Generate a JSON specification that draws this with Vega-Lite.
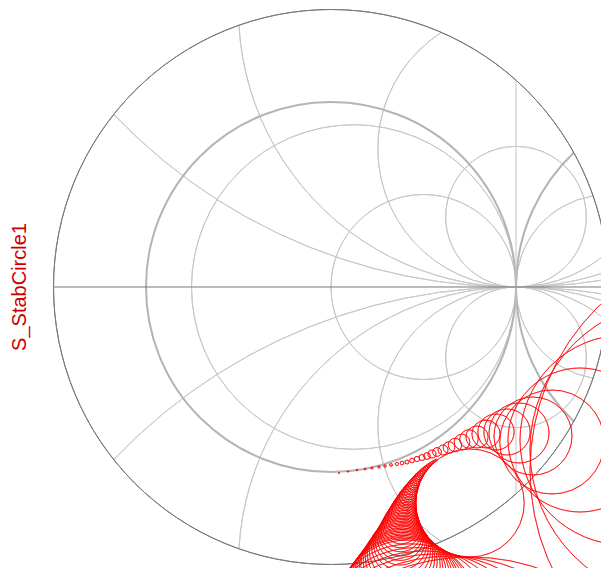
{
  "$schema": "https://vega.github.io/schema/vega-lite/v6.json",
  "width": 601,
  "height": 568,
  "padding": 0,
  "autosize": {"type": "none"},
  "background": "white",
  "config": {"view": {"stroke": null}},
  "datasets": {
    "grid": [
      {"kind": "outer", "cx": 0, "cy": 0, "rad": 1.5, "t0": 0, "t1": 360},
      {"kind": "thick", "cx": 0, "cy": 0, "rad": 1, "t0": 0, "t1": 360},
      {"kind": "thick", "cx": 2, "cy": 0, "rad": 1, "t0": 223.5, "t1": 316.5},
      {"kind": "thin", "cx": 0.123, "cy": 0, "rad": 0.877, "t0": 0, "t1": 360},
      {"kind": "thin", "cx": 0.5, "cy": 0, "rad": 0.5, "t0": 0, "t1": 360},
      {"kind": "thin", "cx": 1.5, "cy": 0, "rad": 0.5, "t0": 189.6, "t1": 350.4},
      {"kind": "thin", "cx": 1, "cy": 3, "rad": 3, "t0": 170.4, "t1": 226.45},
      {"kind": "thin", "cx": 1, "cy": -3, "rad": 3, "t0": -46.45, "t1": 9.6},
      {"kind": "thin", "cx": 1, "cy": 1.5, "rad": 1.5, "t0": 160.63, "t1": 266.75},
      {"kind": "thin", "cx": 1, "cy": -1.5, "rad": 1.5, "t0": -86.75, "t1": 19.37},
      {"kind": "thin", "cx": 1, "cy": 0.747, "rad": 0.747, "t0": 139.1, "t1": 327.35},
      {"kind": "thin", "cx": 1, "cy": -0.747, "rad": 0.747, "t0": -147.35, "t1": 40.9},
      {"kind": "thin", "cx": 1, "cy": 0.38, "rad": 0.38, "t0": 0, "t1": 360},
      {"kind": "thin", "cx": 1, "cy": -0.38, "rad": 0.38, "t0": 0, "t1": 360}
    ],
    "lines": [
      {"kind": "axis", "x1": -1.5, "x2": 1.5, "y1": 0, "y2": 0},
      {"kind": "vert", "x1": 1, "x2": 1, "y1": -1.118, "y2": 1.118}
    ],
    "stab": [
      {"cx": 0.7514, "cy": -1.1676, "rad": 0.2919},
      {"cx": 0.5690, "cy": -0.9342, "rad": 0.0043},
      {"cx": 0.5603, "cy": -0.9398, "rad": 0.0054},
      {"cx": 0.5517, "cy": -0.9458, "rad": 0.0065},
      {"cx": 0.5433, "cy": -0.9522, "rad": 0.0076},
      {"cx": 0.5352, "cy": -0.9588, "rad": 0.0086},
      {"cx": 0.5272, "cy": -0.9657, "rad": 0.0097},
      {"cx": 0.5195, "cy": -0.9730, "rad": 0.0108},
      {"cx": 0.5117, "cy": -0.9804, "rad": 0.0122},
      {"cx": 0.5043, "cy": -0.9881, "rad": 0.0135},
      {"cx": 0.4970, "cy": -0.9961, "rad": 0.0149},
      {"cx": 0.4901, "cy": -1.0043, "rad": 0.0162},
      {"cx": 0.4831, "cy": -1.0127, "rad": 0.0178},
      {"cx": 0.4764, "cy": -1.0214, "rad": 0.0195},
      {"cx": 0.4698, "cy": -1.0302, "rad": 0.0214},
      {"cx": 0.4635, "cy": -1.0394, "rad": 0.0232},
      {"cx": 0.4574, "cy": -1.0488, "rad": 0.0251},
      {"cx": 0.4517, "cy": -1.0585, "rad": 0.0270},
      {"cx": 0.4457, "cy": -1.0683, "rad": 0.0295},
      {"cx": 0.4401, "cy": -1.0783, "rad": 0.0319},
      {"cx": 0.4345, "cy": -1.0886, "rad": 0.0346},
      {"cx": 0.4294, "cy": -1.0991, "rad": 0.0373},
      {"cx": 0.4242, "cy": -1.1099, "rad": 0.0403},
      {"cx": 0.4195, "cy": -1.1209, "rad": 0.0432},
      {"cx": 0.4148, "cy": -1.1322, "rad": 0.0465},
      {"cx": 0.4105, "cy": -1.1437, "rad": 0.0497},
      {"cx": 0.4064, "cy": -1.1555, "rad": 0.0532},
      {"cx": 0.4027, "cy": -1.1676, "rad": 0.0568},
      {"cx": 0.3989, "cy": -1.1799, "rad": 0.0608},
      {"cx": 0.3955, "cy": -1.1925, "rad": 0.0649},
      {"cx": 0.3923, "cy": -1.2053, "rad": 0.0692},
      {"cx": 0.3895, "cy": -1.2184, "rad": 0.0735},
      {"cx": 0.3867, "cy": -1.2318, "rad": 0.0784},
      {"cx": 0.3844, "cy": -1.2456, "rad": 0.0832},
      {"cx": 0.3821, "cy": -1.2596, "rad": 0.0886},
      {"cx": 0.3803, "cy": -1.2740, "rad": 0.0941},
      {"cx": 0.3786, "cy": -1.2886, "rad": 0.1000},
      {"cx": 0.3775, "cy": -1.3036, "rad": 0.1059},
      {"cx": 0.3765, "cy": -1.3190, "rad": 0.1124},
      {"cx": 0.3761, "cy": -1.3346, "rad": 0.1189},
      {"cx": 0.3748, "cy": -1.3512, "rad": 0.1270},
      {"cx": 0.3743, "cy": -1.3681, "rad": 0.1351},
      {"cx": 0.3736, "cy": -1.3857, "rad": 0.1443},
      {"cx": 0.3732, "cy": -1.4039, "rad": 0.1541},
      {"cx": 0.3727, "cy": -1.4230, "rad": 0.1649},
      {"cx": 0.3731, "cy": -1.4424, "rad": 0.1757},
      {"cx": 0.3735, "cy": -1.4628, "rad": 0.1876},
      {"cx": 0.3745, "cy": -1.4837, "rad": 0.2000},
      {"cx": 0.3758, "cy": -1.5057, "rad": 0.2135},
      {"cx": 0.3781, "cy": -1.5281, "rad": 0.2270},
      {"cx": 0.3796, "cy": -1.5525, "rad": 0.2432},
      {"cx": 0.3824, "cy": -1.5773, "rad": 0.2595},
      {"cx": 0.3848, "cy": -1.6044, "rad": 0.2784},
      {"cx": 0.3886, "cy": -1.6318, "rad": 0.2973},
      {"cx": 0.3923, "cy": -1.6617, "rad": 0.3189},
      {"cx": 0.3977, "cy": -1.6918, "rad": 0.3405},
      {"cx": 0.4034, "cy": -1.7245, "rad": 0.3649},
      {"cx": 0.4108, "cy": -1.7574, "rad": 0.3892},
      {"cx": 0.4316, "cy": -1.8534, "rad": 0.4649},
      {"cx": 0.4630, "cy": -1.9599, "rad": 0.5514},
      {"cx": 0.5051, "cy": -2.0865, "rad": 0.6595},
      {"cx": 0.5636, "cy": -2.2322, "rad": 0.7892},
      {"cx": 0.6435, "cy": -2.4007, "rad": 0.9459},
      {"cx": 0.7514, "cy": -2.5946, "rad": 1.1351},
      {"cx": 0.0432, "cy": -1.0054, "rad": 0.0032},
      {"cx": 0.0919, "cy": -0.9973, "rad": 0.0038},
      {"cx": 0.1405, "cy": -0.9892, "rad": 0.0043},
      {"cx": 0.1838, "cy": -0.9838, "rad": 0.0049},
      {"cx": 0.2216, "cy": -0.9784, "rad": 0.0054},
      {"cx": 0.2595, "cy": -0.9730, "rad": 0.0059},
      {"cx": 0.2919, "cy": -0.9676, "rad": 0.0068},
      {"cx": 0.3243, "cy": -0.9622, "rad": 0.0076},
      {"cx": 0.3568, "cy": -0.9568, "rad": 0.0086},
      {"cx": 0.3838, "cy": -0.9514, "rad": 0.0097},
      {"cx": 0.4108, "cy": -0.9459, "rad": 0.0108},
      {"cx": 0.4378, "cy": -0.9378, "rad": 0.0124},
      {"cx": 0.4649, "cy": -0.9297, "rad": 0.0141},
      {"cx": 0.4919, "cy": -0.9216, "rad": 0.0162},
      {"cx": 0.5189, "cy": -0.9135, "rad": 0.0184},
      {"cx": 0.5459, "cy": -0.9027, "rad": 0.0211},
      {"cx": 0.5730, "cy": -0.8919, "rad": 0.0238},
      {"cx": 0.6054, "cy": -0.8811, "rad": 0.0270},
      {"cx": 0.6378, "cy": -0.8676, "rad": 0.0314},
      {"cx": 0.6703, "cy": -0.8541, "rad": 0.0362},
      {"cx": 0.7081, "cy": -0.8378, "rad": 0.0422},
      {"cx": 0.7459, "cy": -0.8216, "rad": 0.0497},
      {"cx": 0.7892, "cy": -0.8108, "rad": 0.0595},
      {"cx": 0.8378, "cy": -0.7946, "rad": 0.0757},
      {"cx": 0.8919, "cy": -0.7838, "rad": 0.0973},
      {"cx": 0.9514, "cy": -0.7838, "rad": 0.1243},
      {"cx": 1.0162, "cy": -0.7892, "rad": 0.1622},
      {"cx": 1.0919, "cy": -0.8054, "rad": 0.2108},
      {"cx": 1.1946, "cy": -0.8378, "rad": 0.2811},
      {"cx": 1.3459, "cy": -0.8270, "rad": 0.3892},
      {"cx": 1.5892, "cy": -0.8270, "rad": 0.5676},
      {"cx": 1.8865, "cy": -0.8811, "rad": 0.8108},
      {"cx": 2.3189, "cy": -0.9892, "rad": 1.2432}
    ],
    "label": [{"u": -1.6486, "v": 0, "name": "S_StabCircle1"}]
  },
  "layer": [
    {
      "data": {"name": "grid"},
      "transform": [{"filter": "datum.kind === 'thin'"}],
      "mark": {"type": "arc", "filled": false, "fillOpacity": 0, "stroke": "#c8c8c8", "strokeWidth": 1, "clip": true},
      "encoding": {
        "x": {"field": "cx", "type": "quantitative", "scale": {"domain": [-1.78919, 1.45946], "nice": false, "zero": false}, "axis": null},
        "y": {"field": "cy", "type": "quantitative", "scale": {"domain": [-1.51892, 1.55135], "nice": false, "zero": false}, "axis": null},
        "radius": {"field": "rad", "type": "quantitative", "scale": {"type": "linear", "domain": [0, 1], "range": [0, 185], "zero": true}},
        "radius2": {"field": "rad"},
        "theta": {"field": "t0", "type": "quantitative", "scale": {"type": "linear", "domain": [0, 360], "range": [0, 6.283185307179586]}},
        "theta2": {"field": "t1"}
      }
    },
    {
      "data": {"name": "grid"},
      "transform": [{"filter": "datum.kind === 'thick'"}],
      "mark": {"type": "arc", "filled": false, "fillOpacity": 0, "stroke": "#b4b4b4", "strokeWidth": 2, "clip": true},
      "encoding": {
        "x": {"field": "cx", "type": "quantitative"},
        "y": {"field": "cy", "type": "quantitative"},
        "radius": {"field": "rad", "type": "quantitative"},
        "radius2": {"field": "rad"},
        "theta": {"field": "t0", "type": "quantitative"},
        "theta2": {"field": "t1"}
      }
    },
    {
      "data": {"name": "grid"},
      "transform": [{"filter": "datum.kind === 'outer'"}],
      "mark": {"type": "arc", "filled": false, "fillOpacity": 0, "stroke": "#7a7a7a", "strokeWidth": 1, "clip": true},
      "encoding": {
        "x": {"field": "cx", "type": "quantitative"},
        "y": {"field": "cy", "type": "quantitative"},
        "radius": {"field": "rad", "type": "quantitative"},
        "radius2": {"field": "rad"},
        "theta": {"field": "t0", "type": "quantitative"},
        "theta2": {"field": "t1"}
      }
    },
    {
      "data": {"name": "lines"},
      "transform": [{"filter": "datum.kind === 'vert'"}],
      "mark": {"type": "rule", "stroke": "#c4c4c4", "strokeWidth": 1, "clip": true},
      "encoding": {
        "x": {"field": "x1", "type": "quantitative"},
        "x2": {"field": "x2"},
        "y": {"field": "y1", "type": "quantitative"},
        "y2": {"field": "y2"}
      }
    },
    {
      "data": {"name": "lines"},
      "transform": [{"filter": "datum.kind === 'axis'"}],
      "mark": {"type": "rule", "stroke": "#777777", "strokeWidth": 1, "clip": true},
      "encoding": {
        "x": {"field": "x1", "type": "quantitative"},
        "x2": {"field": "x2"},
        "y": {"field": "y1", "type": "quantitative"},
        "y2": {"field": "y2"}
      }
    },
    {
      "data": {"name": "stab"},
      "mark": {"type": "arc", "filled": false, "fillOpacity": 0, "stroke": "#ff0000", "strokeWidth": 0.8, "strokeOpacity": 0.8, "clip": true},
      "encoding": {
        "x": {"field": "cx", "type": "quantitative"},
        "y": {"field": "cy", "type": "quantitative"},
        "radius": {"field": "rad", "type": "quantitative"},
        "radius2": {"field": "rad"},
        "theta": {"datum": 0, "type": "quantitative"},
        "theta2": {"datum": 360}
      }
    },
    {
      "data": {"name": "label"},
      "mark": {"type": "text", "angle": 270, "align": "center", "baseline": "alphabetic", "font": "Liberation Sans", "fontSize": 20, "fill": "#cc0000"},
      "encoding": {
        "x": {"field": "u", "type": "quantitative"},
        "y": {"field": "v", "type": "quantitative"},
        "text": {"field": "name"}
      }
    }
  ]
}
